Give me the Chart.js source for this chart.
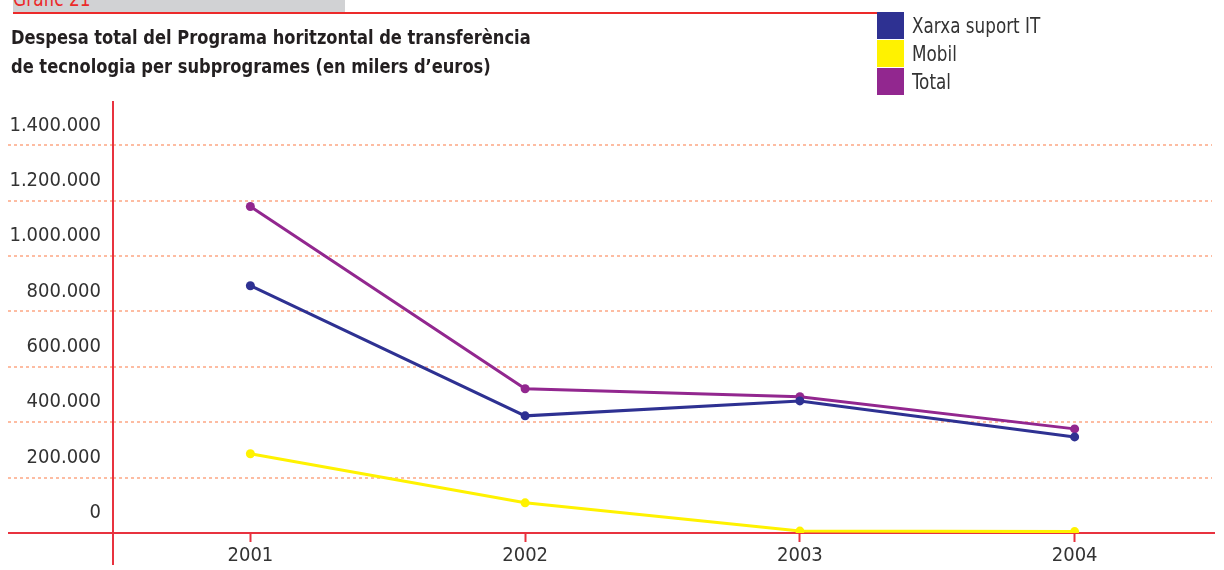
<!DOCTYPE html>
<html>
<head>
<meta charset="utf-8">
<script src="https://cdn.jsdelivr.net/npm/chart.js@4.4.0/dist/chart.umd.min.js"></script>
<style>
  body { margin: 0; background: #fff; font-family: 'Liberation Sans Narrow', 'DejaVu Sans Condensed', sans-serif; }
  #wrap { position: relative; width: 1224px; height: 570px; overflow: hidden; }
  #chart { position: absolute; left: 0; top: 0; }
  #tag { position: absolute; left: 13px; top: 0; width: 332px; height: 12px; background: #d1d2d4; overflow: hidden; }
  #tag span { position: absolute; left: 0; top: -11px; color: #ec2a2a; font-size: 21px; line-height: 21px; transform: scaleX(0.9); transform-origin: left; }
  #rule { position: absolute; left: 13px; top: 12px; width: 864px; height: 2px; background: #ec2a2a; }
  #title { position: absolute; left: 11px; top: 23px; font-weight: bold; font-size: 20px; line-height: 29px; color: #231f20; transform: scaleX(0.905); transform-origin: left; white-space: nowrap; }
  #legend { position: absolute; left: 877px; top: 12px; }
  #legend div { height: 28px; display: flex; align-items: center; font-size: 21px; color: #333; white-space: nowrap; }
  #legend i { display: inline-block; width: 27px; height: 27px; margin-right: 8px; margin-bottom: 1px; flex: none; }
  #legend span { display: inline-block; transform: scaleX(0.89); transform-origin: left; }
</style>
</head>
<body>
<div id="wrap">
  <canvas id="chart" width="1224" height="570"></canvas>
  <div id="tag"><span>Gràfic 21</span></div>
  <div id="rule"></div>
  <div id="title">Despesa total del Programa horitzontal de transferència<br>de tecnologia per subprogrames (en milers d’euros)</div>
  <div id="legend"></div>
</div>
<script>
// data (thousands of euros)
const years = ['2001', '2002', '2003', '2004'];
const xarxa = [893000, 423000, 477000, 347000];
const mobil = [286000, 109000, 7000, 5000];
const total = [1179000, 521000, 492000, 376000];
const seriesNames = ['Xarxa suport IT', 'Mobil', 'Total'];
const seriesColors = ['#2e3192', '#fff200', '#92278f'];
const yTicks = [0, 200000, 400000, 600000, 800000, 1000000, 1200000, 1400000];

const red = '#e8323f';
const gridColor = '#fdbca2';
const font = "'Liberation Sans Narrow', 'DejaVu Sans Condensed', sans-serif";

// red axis lines that run past the plot area
const axisLines = {
    id: 'axisLines',
    beforeDatasetsDraw(chart) {
        const { ctx, chartArea } = chart;
        ctx.save();
        ctx.strokeStyle = red;
        ctx.lineWidth = 2;
        ctx.beginPath();
        ctx.moveTo(8, chartArea.bottom);
        ctx.lineTo(chartArea.right + 3, chartArea.bottom);
        ctx.moveTo(chartArea.left, chartArea.top);
        ctx.lineTo(chartArea.left, chartArea.bottom + 32);
        ctx.stroke();
        ctx.restore();
    }
};

function line(name, data, color) {
    return {
        label: name,
        data,
        borderColor: color,
        backgroundColor: color,
        borderWidth: 3,
        pointRadius: 4.5,
        pointHoverRadius: 4.5,
        pointBorderWidth: 0,
        tension: 0
    };
}

const chart = new Chart('chart', {
    type: 'line',
    data: {
        labels: years,
        datasets: [
            line(seriesNames[0], xarxa, seriesColors[0]),
            line(seriesNames[1], mobil, seriesColors[1]),
            line(seriesNames[2], total, seriesColors[2])
        ]
    },
    options: {
        responsive: false,
        animation: false,
        layout: { padding: { top: 101, left: 8, right: 12, bottom: 0 } },
        plugins: { legend: { display: false }, title: { display: false }, tooltip: { enabled: false } },
        scales: {
            x: {
                offset: true,
                border: { display: false },
                grid: { offset: false, drawOnChartArea: false, drawTicks: true, tickLength: 9, tickColor: red, tickWidth: 2 },
                ticks: { color: '#333', font: { family: font, size: 20 }, padding: 2 },
                afterFit(scale) { scale.height = 37; }
            },
            y: {
                min: 0,
                max: 1560000,
                border: { display: false, dash: [3, 3] },
                grid: {
                    color: gridColor, lineWidth: 2,
                    drawTicks: true, tickLength: 105, tickColor: gridColor, tickWidth: 2, tickBorderDash: [3, 3]
                },
                ticks: {
                    labelOffset: -20,
                    padding: -93,
                    color: '#333',
                    font: { family: font, size: 20 },
                    callback: v => v.toString().replace(/\B(?=(\d{3})+(?!\d))/g, '.')
                },
                afterBuildTicks(scale) { scale.ticks = yTicks.map(v => ({ value: v })); },
                afterFit(scale) { scale.width = 105; }
            }
        }
    },
    plugins: [axisLines]
});

// legend with square swatches, built from the datasets
const legend = document.getElementById('legend');
chart.data.datasets.forEach(ds => {
    const row = document.createElement('div');
    row.innerHTML = '<i style="background:' + ds.borderColor + '"></i><span>' + ds.label + '</span>';
    legend.appendChild(row);
});
</script>
</body>
</html>
